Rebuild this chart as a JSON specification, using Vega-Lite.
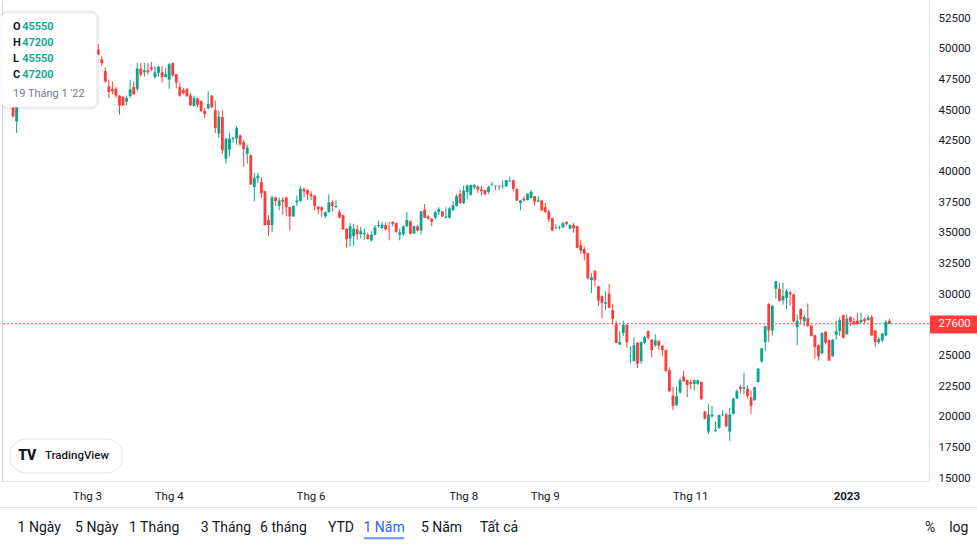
{
"$schema":"https://vega.github.io/schema/vega-lite/v6.json",
"padding":0,
"background":"#ffffff",
"spacing":26,
"bounds":"flush",
"config":{"view":{"stroke":null},"font":"Roboto","axis":{"labelOverlap":false}},
"datasets":{
"tabs":[{"t":"1 Ngày"},{"t":"5 Ngày"},{"t":"1 Tháng"},{"t":"3 Tháng"},{"t":"6 tháng"},{"t":"YTD"},{"t":"1 Năm"},{"t":"5 Năm"},{"t":"Tất cả"},{"t":"%"},{"t":"log"}],
"candles":[
{"d":"2022-01-19","o":45550,"h":47200,"l":45550,"c":47200},
{"d":"2022-01-20","o":47200,"h":47500,"l":46300,"c":46500},
{"d":"2022-01-21","o":46500,"h":46800,"l":45600,"c":45900},
{"d":"2022-01-24","o":45500,"h":45900,"l":44400,"c":44500},
{"d":"2022-01-25","o":44100,"h":46000,"l":43150,"c":45800},
{"d":"2022-01-26","o":45900,"h":46800,"l":45250,"c":46500},
{"d":"2022-01-27","o":46500,"h":47000,"l":45900,"c":46200},
{"d":"2022-01-28","o":46200,"h":47100,"l":45250,"c":46900},
{"d":"2022-02-07","o":47500,"h":48200,"l":47300,"c":47900},
{"d":"2022-02-08","o":47900,"h":48500,"l":47500,"c":48300},
{"d":"2022-02-09","o":48300,"h":48700,"l":47600,"c":47800},
{"d":"2022-02-10","o":47800,"h":48600,"l":47500,"c":48400},
{"d":"2022-02-11","o":48400,"h":49300,"l":48200,"c":49000},
{"d":"2022-02-14","o":49000,"h":49300,"l":48000,"c":48200},
{"d":"2022-02-15","o":48200,"h":48900,"l":47800,"c":48700},
{"d":"2022-02-16","o":48700,"h":49600,"l":48500,"c":49400},
{"d":"2022-02-17","o":49400,"h":49900,"l":48900,"c":49100},
{"d":"2022-02-18","o":49100,"h":50200,"l":49000,"c":49900},
{"d":"2022-02-21","o":49900,"h":50400,"l":49200,"c":49500},
{"d":"2022-02-22","o":49500,"h":50000,"l":48800,"c":49000},
{"d":"2022-02-23","o":49000,"h":49700,"l":48700,"c":49500},
{"d":"2022-02-24","o":49500,"h":50300,"l":49300,"c":50100},
{"d":"2022-02-25","o":50100,"h":50600,"l":49600,"c":49800},
{"d":"2022-02-28","o":49800,"h":50500,"l":49400,"c":50300},
{"d":"2022-03-01","o":50300,"h":50900,"l":50000,"c":50600},
{"d":"2022-03-02","o":50600,"h":51000,"l":49900,"c":50100},
{"d":"2022-03-03","o":50100,"h":50600,"l":49800,"c":50400},
{"d":"2022-03-04","o":49950,"h":50400,"l":49500,"c":49550},
{"d":"2022-03-07","o":49150,"h":49400,"l":48600,"c":48850},
{"d":"2022-03-08","o":48200,"h":48500,"l":47250,"c":47350},
{"d":"2022-03-09","o":46950,"h":47500,"l":46000,"c":46500},
{"d":"2022-03-10","o":46750,"h":47350,"l":46300,"c":46550},
{"d":"2022-03-11","o":46750,"h":46900,"l":46000,"c":46200},
{"d":"2022-03-14","o":46200,"h":46250,"l":44650,"c":45400},
{"d":"2022-03-15","o":46100,"h":46150,"l":45350,"c":45400},
{"d":"2022-03-16","o":45700,"h":46200,"l":45400,"c":46000},
{"d":"2022-03-17","o":46150,"h":47500,"l":46000,"c":46700},
{"d":"2022-03-18","o":46900,"h":47350,"l":46300,"c":46300},
{"d":"2022-03-21","o":46750,"h":48850,"l":46550,"c":48400},
{"d":"2022-03-22","o":48400,"h":48850,"l":47750,"c":47900},
{"d":"2022-03-23","o":48100,"h":48850,"l":47750,"c":48250},
{"d":"2022-03-24","o":48250,"h":48850,"l":47900,"c":48100},
{"d":"2022-03-25","o":48500,"h":48950,"l":48200,"c":48350},
{"d":"2022-03-28","o":47700,"h":48600,"l":47600,"c":48100},
{"d":"2022-03-29","o":48050,"h":48650,"l":47750,"c":48550},
{"d":"2022-03-30","o":48100,"h":48600,"l":47250,"c":47700},
{"d":"2022-03-31","o":47700,"h":48450,"l":47700,"c":47950},
{"d":"2022-04-01","o":47500,"h":48850,"l":46750,"c":48750},
{"d":"2022-04-04","o":48850,"h":48900,"l":47750,"c":47850},
{"d":"2022-04-05","o":47950,"h":47950,"l":46800,"c":47250},
{"d":"2022-04-06","o":46900,"h":47250,"l":46100,"c":46200},
{"d":"2022-04-07","o":46650,"h":46800,"l":46300,"c":46400},
{"d":"2022-04-08","o":46750,"h":46800,"l":46100,"c":46150},
{"d":"2022-04-12","o":46200,"h":46400,"l":45350,"c":45400},
{"d":"2022-04-13","o":45350,"h":46200,"l":45300,"c":46000},
{"d":"2022-04-14","o":45950,"h":46050,"l":45250,"c":45450},
{"d":"2022-04-15","o":45750,"h":45800,"l":44850,"c":44950},
{"d":"2022-04-18","o":44950,"h":45200,"l":44400,"c":44700},
{"d":"2022-04-19","o":45150,"h":46550,"l":45100,"c":45500},
{"d":"2022-04-20","o":46200,"h":46250,"l":45200,"c":45250},
{"d":"2022-04-21","o":45000,"h":45800,"l":43150,"c":43550},
{"d":"2022-04-22","o":43100,"h":45000,"l":42750,"c":44500},
{"d":"2022-04-25","o":44450,"h":45000,"l":41450,"c":41750},
{"d":"2022-04-26","o":41050,"h":42800,"l":40650,"c":42650},
{"d":"2022-04-27","o":41800,"h":43200,"l":41250,"c":42700},
{"d":"2022-04-28","o":42650,"h":42800,"l":42350,"c":42750},
{"d":"2022-04-29","o":42700,"h":43700,"l":42200,"c":43550},
{"d":"2022-05-04","o":42950,"h":43050,"l":42150,"c":42200},
{"d":"2022-05-05","o":42400,"h":42600,"l":40400,"c":41850},
{"d":"2022-05-06","o":41450,"h":42200,"l":40650,"c":41950},
{"d":"2022-05-09","o":41350,"h":41400,"l":38900,"c":38950},
{"d":"2022-05-10","o":38750,"h":39900,"l":37600,"c":39500},
{"d":"2022-05-11","o":39450,"h":39900,"l":39050,"c":39650},
{"d":"2022-05-12","o":39150,"h":39550,"l":37850,"c":38250},
{"d":"2022-05-13","o":38400,"h":38450,"l":35600,"c":35650},
{"d":"2022-05-16","o":36050,"h":36450,"l":34750,"c":35650},
{"d":"2022-05-17","o":35650,"h":38050,"l":35050,"c":37900},
{"d":"2022-05-18","o":37900,"h":37950,"l":37200,"c":37600},
{"d":"2022-05-19","o":37200,"h":37900,"l":36850,"c":37650},
{"d":"2022-05-20","o":37700,"h":37900,"l":36500,"c":37550},
{"d":"2022-05-23","o":37900,"h":37950,"l":36350,"c":37100},
{"d":"2022-05-24","o":37100,"h":37150,"l":35200,"c":36350},
{"d":"2022-05-25","o":36350,"h":37250,"l":36300,"c":37200},
{"d":"2022-05-26","o":37500,"h":38050,"l":37200,"c":37650},
{"d":"2022-05-27","o":37600,"h":38800,"l":37550,"c":38600},
{"d":"2022-05-30","o":38600,"h":38700,"l":37900,"c":38400},
{"d":"2022-05-31","o":38500,"h":38550,"l":37700,"c":38150},
{"d":"2022-06-01","o":38150,"h":38400,"l":37700,"c":38000},
{"d":"2022-06-02","o":38050,"h":38100,"l":36850,"c":37200},
{"d":"2022-06-03","o":37150,"h":37200,"l":36550,"c":36950},
{"d":"2022-06-06","o":37100,"h":37150,"l":36300,"c":36850},
{"d":"2022-06-07","o":36350,"h":36750,"l":36200,"c":36700},
{"d":"2022-06-08","o":36700,"h":38150,"l":36650,"c":37500},
{"d":"2022-06-09","o":37500,"h":37650,"l":36750,"c":37200},
{"d":"2022-06-10","o":37100,"h":37650,"l":37050,"c":37200},
{"d":"2022-06-13","o":36700,"h":36900,"l":36200,"c":36250},
{"d":"2022-06-14","o":36450,"h":36500,"l":35250,"c":35300},
{"d":"2022-06-15","o":35350,"h":35400,"l":33800,"c":34500},
{"d":"2022-06-16","o":34550,"h":35800,"l":33900,"c":35550},
{"d":"2022-06-17","o":34750,"h":35750,"l":33950,"c":35350},
{"d":"2022-06-20","o":35300,"h":35650,"l":34450,"c":34900},
{"d":"2022-06-21","o":34900,"h":35500,"l":34550,"c":35150},
{"d":"2022-06-22","o":34900,"h":35350,"l":34450,"c":35000},
{"d":"2022-06-23","o":34850,"h":35000,"l":34450,"c":34500},
{"d":"2022-06-24","o":34400,"h":35150,"l":34300,"c":34850},
{"d":"2022-06-27","o":34850,"h":35650,"l":34800,"c":35450},
{"d":"2022-06-28","o":35550,"h":36000,"l":35450,"c":35650},
{"d":"2022-06-29","o":35400,"h":35900,"l":35300,"c":35700},
{"d":"2022-06-30","o":35650,"h":35850,"l":35200,"c":35300},
{"d":"2022-07-01","o":35300,"h":35900,"l":34400,"c":35250},
{"d":"2022-07-04","o":35900,"h":35950,"l":35550,"c":35750},
{"d":"2022-07-05","o":35800,"h":35850,"l":35000,"c":35100},
{"d":"2022-07-06","o":34850,"h":35350,"l":34400,"c":35050},
{"d":"2022-07-07","o":34900,"h":35600,"l":34750,"c":35550},
{"d":"2022-07-08","o":35550,"h":36700,"l":35450,"c":36050},
{"d":"2022-07-11","o":35950,"h":36000,"l":34850,"c":34950},
{"d":"2022-07-12","o":34950,"h":35600,"l":34900,"c":35550},
{"d":"2022-07-13","o":35550,"h":35650,"l":35100,"c":35200},
{"d":"2022-07-14","o":35200,"h":36800,"l":34900,"c":36750},
{"d":"2022-07-15","o":36900,"h":37350,"l":36200,"c":36250},
{"d":"2022-07-18","o":36350,"h":36450,"l":36100,"c":36150},
{"d":"2022-07-19","o":36150,"h":36200,"l":35550,"c":35900},
{"d":"2022-07-20","o":36250,"h":36800,"l":36100,"c":36700},
{"d":"2022-07-21","o":36700,"h":37100,"l":36450,"c":36950},
{"d":"2022-07-22","o":36750,"h":36800,"l":36300,"c":36350},
{"d":"2022-07-25","o":36250,"h":37100,"l":36200,"c":36350},
{"d":"2022-07-26","o":36250,"h":37100,"l":36150,"c":37000},
{"d":"2022-07-27","o":36850,"h":37600,"l":36800,"c":37250},
{"d":"2022-07-28","o":37200,"h":38150,"l":37150,"c":38000},
{"d":"2022-07-29","o":38200,"h":38550,"l":37350,"c":37450},
{"d":"2022-08-01","o":37450,"h":38850,"l":37350,"c":38450},
{"d":"2022-08-02","o":38350,"h":38950,"l":37750,"c":38850},
{"d":"2022-08-03","o":38100,"h":38950,"l":38050,"c":38900},
{"d":"2022-08-04","o":38700,"h":39000,"l":38550,"c":38900},
{"d":"2022-08-05","o":38800,"h":38850,"l":38250,"c":38550},
{"d":"2022-08-08","o":38550,"h":38850,"l":38050,"c":38400},
{"d":"2022-08-09","o":38500,"h":38550,"l":38100,"c":38150},
{"d":"2022-08-10","o":38350,"h":38850,"l":38200,"c":38750},
{"d":"2022-08-11","o":38950,"h":39150,"l":38800,"c":39000},
{"d":"2022-08-12","o":38800,"h":38900,"l":38500,"c":38850},
{"d":"2022-08-15","o":38850,"h":38900,"l":38500,"c":38800},
{"d":"2022-08-16","o":38800,"h":39250,"l":38600,"c":38850},
{"d":"2022-08-17","o":38800,"h":39350,"l":38750,"c":39300},
{"d":"2022-08-18","o":39200,"h":39600,"l":39150,"c":39250},
{"d":"2022-08-19","o":39300,"h":39350,"l":38400,"c":38600},
{"d":"2022-08-22","o":38600,"h":38600,"l":37600,"c":37650},
{"d":"2022-08-23","o":37450,"h":37700,"l":36850,"c":37650},
{"d":"2022-08-24","o":37800,"h":38000,"l":37550,"c":37650},
{"d":"2022-08-25","o":37700,"h":38200,"l":37650,"c":38200},
{"d":"2022-08-26","o":37850,"h":38500,"l":37800,"c":38350},
{"d":"2022-08-29","o":38000,"h":38000,"l":37250,"c":37550},
{"d":"2022-08-30","o":37550,"h":38000,"l":37500,"c":37650},
{"d":"2022-08-31","o":37650,"h":37700,"l":36800,"c":36850},
{"d":"2022-09-05","o":37100,"h":37450,"l":36650,"c":36700},
{"d":"2022-09-06","o":36750,"h":36900,"l":35900,"c":36100},
{"d":"2022-09-07","o":36200,"h":36250,"l":35150,"c":35200},
{"d":"2022-09-08","o":35400,"h":35700,"l":35300,"c":35450},
{"d":"2022-09-09","o":35400,"h":35600,"l":35300,"c":35450},
{"d":"2022-09-12","o":35450,"h":35900,"l":35400,"c":35800},
{"d":"2022-09-13","o":35900,"h":35950,"l":35600,"c":35750},
{"d":"2022-09-14","o":35350,"h":35700,"l":35300,"c":35650},
{"d":"2022-09-15","o":35650,"h":35800,"l":35000,"c":35400},
{"d":"2022-09-16","o":35550,"h":35600,"l":33750,"c":33800},
{"d":"2022-09-19","o":34000,"h":34450,"l":33300,"c":33550},
{"d":"2022-09-20","o":33700,"h":33900,"l":32750,"c":33300},
{"d":"2022-09-21","o":33350,"h":33400,"l":31200,"c":31300},
{"d":"2022-09-22","o":31150,"h":31750,"l":30100,"c":31400},
{"d":"2022-09-23","o":31900,"h":32000,"l":30650,"c":31150},
{"d":"2022-09-26","o":30650,"h":30700,"l":29050,"c":29500},
{"d":"2022-09-27","o":29850,"h":29900,"l":28050,"c":29300},
{"d":"2022-09-28","o":29250,"h":30250,"l":28700,"c":29350},
{"d":"2022-09-29","o":30050,"h":30850,"l":28850,"c":28900},
{"d":"2022-09-30","o":28700,"h":29200,"l":27600,"c":28000},
{"d":"2022-10-03","o":27550,"h":27850,"l":26000,"c":26050},
{"d":"2022-10-04","o":25900,"h":27000,"l":25900,"c":26100},
{"d":"2022-10-05","o":26850,"h":27850,"l":26600,"c":27500},
{"d":"2022-10-06","o":27500,"h":27550,"l":25650,"c":26100},
{"d":"2022-10-07","o":24950,"h":25750,"l":24350,"c":25000},
{"d":"2022-10-10","o":24550,"h":26500,"l":24500,"c":25850},
{"d":"2022-10-11","o":26050,"h":26100,"l":24000,"c":24350},
{"d":"2022-10-12","o":24550,"h":26150,"l":24350,"c":26100},
{"d":"2022-10-13","o":26050,"h":26600,"l":25900,"c":26500},
{"d":"2022-10-14","o":27000,"h":27050,"l":26300,"c":26450},
{"d":"2022-10-17","o":26300,"h":26350,"l":24850,"c":25450},
{"d":"2022-10-18","o":25850,"h":26750,"l":25700,"c":26250},
{"d":"2022-10-19","o":26200,"h":26250,"l":25450,"c":25800},
{"d":"2022-10-20","o":25800,"h":25850,"l":24950,"c":25450},
{"d":"2022-10-21","o":25450,"h":25500,"l":23650,"c":23750},
{"d":"2022-10-24","o":23800,"h":24050,"l":22050,"c":22100},
{"d":"2022-10-25","o":21750,"h":22450,"l":20550,"c":20900},
{"d":"2022-10-26","o":20950,"h":22450,"l":20900,"c":21700},
{"d":"2022-10-27","o":22000,"h":23200,"l":21900,"c":23000},
{"d":"2022-10-28","o":23300,"h":23750,"l":22900,"c":22900},
{"d":"2022-10-31","o":23000,"h":23050,"l":21600,"c":22600},
{"d":"2022-11-01","o":22850,"h":23050,"l":22250,"c":22700},
{"d":"2022-11-02","o":22700,"h":23050,"l":22150,"c":23000},
{"d":"2022-11-03","o":22700,"h":23050,"l":22600,"c":23000},
{"d":"2022-11-04","o":22850,"h":22900,"l":21400,"c":21450},
{"d":"2022-11-07","o":20450,"h":20500,"l":19800,"c":19850},
{"d":"2022-11-08","o":18800,"h":21050,"l":18600,"c":20200},
{"d":"2022-11-09","o":20050,"h":20900,"l":19950,"c":20200},
{"d":"2022-11-10","o":18850,"h":19650,"l":18800,"c":18950},
{"d":"2022-11-11","o":19100,"h":20200,"l":19050,"c":20150},
{"d":"2022-11-14","o":20150,"h":20550,"l":20050,"c":20200},
{"d":"2022-11-15","o":20200,"h":20350,"l":19150,"c":19250},
{"d":"2022-11-16","o":18800,"h":20750,"l":18050,"c":20200},
{"d":"2022-11-17","o":20250,"h":21550,"l":20200,"c":21500},
{"d":"2022-11-18","o":21500,"h":22250,"l":21450,"c":22100},
{"d":"2022-11-21","o":22450,"h":22600,"l":21900,"c":22300},
{"d":"2022-11-22","o":22300,"h":23600,"l":21850,"c":22450},
{"d":"2022-11-23","o":22300,"h":22600,"l":21500,"c":21700},
{"d":"2022-11-24","o":21600,"h":22150,"l":20250,"c":20900},
{"d":"2022-11-25","o":21350,"h":22450,"l":21350,"c":22450},
{"d":"2022-11-28","o":22850,"h":23950,"l":22800,"c":23950},
{"d":"2022-11-29","o":24550,"h":25650,"l":24400,"c":25600},
{"d":"2022-11-30","o":26100,"h":27450,"l":25350,"c":27400},
{"d":"2022-12-01","o":29200,"h":29300,"l":26100,"c":27050},
{"d":"2022-12-02","o":27050,"h":29100,"l":26650,"c":29050},
{"d":"2022-12-05","o":30450,"h":31100,"l":29650,"c":31050},
{"d":"2022-12-06","o":30450,"h":30950,"l":29400,"c":29450},
{"d":"2022-12-07","o":29500,"h":30950,"l":29150,"c":29850},
{"d":"2022-12-08","o":29700,"h":30450,"l":28800,"c":30250},
{"d":"2022-12-09","o":30150,"h":30250,"l":29100,"c":30000},
{"d":"2022-12-12","o":30000,"h":30050,"l":27750,"c":27800},
{"d":"2022-12-13","o":27350,"h":28350,"l":25850,"c":27850},
{"d":"2022-12-14","o":28800,"h":28850,"l":27550,"c":27950},
{"d":"2022-12-15","o":27800,"h":28350,"l":27400,"c":28150},
{"d":"2022-12-16","o":28050,"h":29250,"l":27350,"c":27400},
{"d":"2022-12-19","o":27450,"h":27500,"l":26550,"c":26600},
{"d":"2022-12-20","o":26650,"h":26700,"l":24750,"c":25700},
{"d":"2022-12-21","o":25850,"h":25900,"l":24600,"c":24950},
{"d":"2022-12-22","o":25200,"h":26900,"l":25100,"c":26850},
{"d":"2022-12-23","o":26950,"h":27000,"l":25900,"c":26050},
{"d":"2022-12-26","o":26250,"h":26300,"l":24550,"c":24600},
{"d":"2022-12-27","o":24950,"h":26350,"l":24900,"c":26300},
{"d":"2022-12-28","o":26700,"h":27850,"l":26300,"c":27000},
{"d":"2022-12-29","o":27000,"h":28100,"l":26600,"c":27900},
{"d":"2022-12-30","o":28300,"h":28350,"l":26400,"c":26450},
{"d":"2023-01-03","o":26750,"h":28350,"l":26700,"c":28000},
{"d":"2023-01-04","o":28150,"h":28200,"l":27400,"c":27750},
{"d":"2023-01-05","o":27800,"h":28100,"l":27500,"c":27550},
{"d":"2023-01-06","o":27850,"h":28500,"l":27550,"c":27600},
{"d":"2023-01-09","o":27700,"h":28500,"l":27650,"c":27900},
{"d":"2023-01-10","o":28000,"h":28100,"l":27600,"c":27800},
{"d":"2023-01-11","o":27900,"h":28300,"l":27850,"c":28100},
{"d":"2023-01-12","o":28150,"h":28300,"l":26600,"c":26650},
{"d":"2023-01-13","o":27050,"h":27100,"l":25700,"c":26100},
{"d":"2023-01-16","o":26100,"h":26500,"l":25950,"c":26350},
{"d":"2023-01-17","o":26250,"h":26850,"l":26100,"c":26800},
{"d":"2023-01-18","o":26650,"h":27900,"l":26600,"c":27750},
{"d":"2023-01-19","o":27850,"h":28000,"l":27550,"c":27600}
]},
"vconcat":[
{
"width":928,"height":480,
"resolve":{"axis":{"x":"independent","y":"independent"}},
"layer":[
{"data":{"name":"candles"},"mark":{"type":"rule","strokeWidth":1},
 "encoding":{
  "x":{"field":"d","type":"ordinal","scale":{"type":"band","domain":{"unionWith":["2023-01-27","2023-01-30","2023-01-31","2023-02-01","2023-02-02","2023-02-03","2023-02-06","2023-02-07","2023-02-08","2023-02-09"]},"paddingInner":0.2,"paddingOuter":0.38,"align":0,"round":false},
   "axis":{"orient":"bottom","title":null,"values":["2022-03-01","2022-04-01","2022-06-01","2022-08-01","2022-09-05","2022-11-01","2023-01-03"],
    "labelExpr":"datum.value == '2023-01-03' ? '2023' : 'Thg ' + toNumber(slice(datum.value, 5, 7))",
    "labelFontWeight":{"condition":{"test":"datum.value == '2023-01-03'","value":"bold"},"value":"normal"},
    "ticks":false,"grid":false,"domainColor":"#e0e3eb","labelPadding":9,"labelAngle":0,"labelColor":"#131722","labelFont":"Roboto","labelFontSize":11.5,"labelOverlap":false}},
  "y":{"field":"l","type":"quantitative","scale":{"domain":[14780,53910],"nice":false,"zero":false},
   "axis":{"orient":"right","title":null,"values":[15000,17500,20000,22500,25000,27600,30000,32500,35000,37500,40000,42500,45000,47500,50000,52500],
    "format":"d","grid":false,"domainColor":"#e0e3eb","tickSize":49,"tickColor":"#FF3B3B",
    "tickWidth":{"condition":{"test":"datum.value == 27600","value":18},"value":0},
    "tickOpacity":{"condition":{"test":"datum.value == 27600","value":1},"value":0},
    "labelPadding":-40,"labelAlign":"left",
    "labelColor":{"condition":{"test":"datum.value == 27600","value":"#ffffff"},"value":"#131722"},
    "labelFont":"Roboto","labelFontSize":11.5,"labelOverlap":false,"labelFlush":false}},
  "y2":{"field":"h"},
  "color":{"condition":{"test":"datum.c >= datum.o","value":"#08A58F"},"value":"#FF3B3B"}}},
{"data":{"name":"candles"},"mark":{"type":"bar"},
 "encoding":{
  "x":{"field":"d","type":"ordinal","axis":null},
  "y":{"field":"o","type":"quantitative","axis":null},
  "y2":{"field":"c"},
  "color":{"condition":{"test":"datum.c >= datum.o","value":"#08A58F"},"value":"#FF3B3B"}}},
{"data":{"values":[{}]},"mark":{"type":"rule","color":"#d1d4dc","strokeWidth":1},"encoding":{"x":{"datum":"2022-01-19","type":"ordinal","axis":null}}},
{"data":{"values":[{}]},"mark":{"type":"rule","color":"#FF3B3B","strokeDash":[2,2],"strokeWidth":1},"encoding":{"y":{"datum":27600,"axis":null}}},
{"data":{"values":[{}]},"mark":{"type":"rect","fill":"#ffffff","stroke":"#000000","strokeOpacity":0.07,"strokeWidth":5,"cornerRadius":6,"clip":true},
 "encoding":{"x":{"datum":"2022-01-19","type":"ordinal","bandPosition":0,"axis":null},"x2":{"datum":"2022-03-04","bandPosition":0},"y":{"datum":52930,"axis":null},"y2":{"datum":45270}}},
{"data":{"values":[{}]},"mark":{"type":"rect","fill":"#ffffff","stroke":"#ececec","strokeWidth":1,"cornerRadius":6,"clip":true},
 "encoding":{"x":{"datum":"2022-01-19","type":"ordinal","bandPosition":0,"axis":null},"x2":{"datum":"2022-03-04","bandPosition":0},"y":{"datum":52930,"axis":null},"y2":{"datum":45270}}},
{"data":{"name":"candles"},"transform":[{"filter":"datum.d == '2022-01-19'"}],"mark":{"type":"text","align":"left","baseline":"middle","font":"Roboto","fontSize":11,"fontWeight":"bold","color":"#131722","text":"O"},
 "encoding":{"x":{"datum":"2022-01-24","type":"ordinal","axis":null},"y":{"datum":51790,"axis":null}}},
{"data":{"name":"candles"},"transform":[{"filter":"datum.d == '2022-01-19'"}],"mark":{"type":"text","align":"left","baseline":"middle","font":"Roboto","fontSize":11,"fontWeight":"bold","color":"#131722","text":"H"},
 "encoding":{"x":{"datum":"2022-01-24","type":"ordinal","axis":null},"y":{"datum":50486,"axis":null}}},
{"data":{"name":"candles"},"transform":[{"filter":"datum.d == '2022-01-19'"}],"mark":{"type":"text","align":"left","baseline":"middle","font":"Roboto","fontSize":11,"fontWeight":"bold","color":"#131722","text":"L"},
 "encoding":{"x":{"datum":"2022-01-24","type":"ordinal","axis":null},"y":{"datum":49182,"axis":null}}},
{"data":{"name":"candles"},"transform":[{"filter":"datum.d == '2022-01-19'"}],"mark":{"type":"text","align":"left","baseline":"middle","font":"Roboto","fontSize":11,"fontWeight":"bold","color":"#131722","text":"C"},
 "encoding":{"x":{"datum":"2022-01-24","type":"ordinal","axis":null},"y":{"datum":47877,"axis":null}}},
{"data":{"name":"candles"},"transform":[{"filter":"datum.d == '2022-01-19'"}],"mark":{"type":"text","align":"left","baseline":"middle","font":"Roboto","fontSize":11,"fontWeight":600,"color":"#08A58F","dx":2},
 "encoding":{"x":{"datum":"2022-01-26","type":"ordinal","axis":null},"y":{"datum":51790,"axis":null},"text":{"field":"o","type":"quantitative","format":"d"}}},
{"data":{"name":"candles"},"transform":[{"filter":"datum.d == '2022-01-19'"}],"mark":{"type":"text","align":"left","baseline":"middle","font":"Roboto","fontSize":11,"fontWeight":600,"color":"#08A58F","dx":2},
 "encoding":{"x":{"datum":"2022-01-26","type":"ordinal","axis":null},"y":{"datum":50486,"axis":null},"text":{"field":"h","type":"quantitative","format":"d"}}},
{"data":{"name":"candles"},"transform":[{"filter":"datum.d == '2022-01-19'"}],"mark":{"type":"text","align":"left","baseline":"middle","font":"Roboto","fontSize":11,"fontWeight":600,"color":"#08A58F","dx":2},
 "encoding":{"x":{"datum":"2022-01-26","type":"ordinal","axis":null},"y":{"datum":49182,"axis":null},"text":{"field":"l","type":"quantitative","format":"d"}}},
{"data":{"name":"candles"},"transform":[{"filter":"datum.d == '2022-01-19'"}],"mark":{"type":"text","align":"left","baseline":"middle","font":"Roboto","fontSize":11,"fontWeight":600,"color":"#08A58F","dx":2},
 "encoding":{"x":{"datum":"2022-01-26","type":"ordinal","axis":null},"y":{"datum":47877,"axis":null},"text":{"field":"c","type":"quantitative","format":"d"}}},
{"data":{"values":[{}]},"mark":{"type":"text","align":"left","baseline":"middle","font":"Roboto","fontSize":11,"color":"#787b86","text":"19 Tháng 1 '22"},
 "encoding":{"x":{"datum":"2022-01-24","type":"ordinal","axis":null},"y":{"datum":46329,"axis":null}}},
{"data":{"values":[{}]},"mark":{"type":"rect","fill":"#ffffff","stroke":"#e0e3eb","strokeWidth":1,"cornerRadius":17},
 "encoding":{"x":{"datum":"2022-01-21","type":"ordinal","axis":null},"x2":{"datum":"2022-03-15"},"y":{"datum":18204,"axis":null},"y2":{"datum":15433}}},
{"data":{"values":[{}]},"mark":{"type":"text","align":"center","baseline":"middle","font":"Roboto","fontSize":14,"fontWeight":900,"color":"#131722","text":"TV"},
 "encoding":{"x":{"datum":"2022-01-28","type":"ordinal","axis":null},"y":{"datum":16819,"axis":null}}},
{"data":{"values":[{}]},"mark":{"type":"text","align":"center","baseline":"middle","font":"Roboto","fontSize":11.5,"fontWeight":500,"color":"#131722","text":"TradingView"},
 "encoding":{"x":{"datum":"2022-02-24","type":"ordinal","axis":null},"y":{"datum":16819,"axis":null}}}
]
},
{
"width":977,"height":38,
"layer":[
{"data":{"values":[{}]},"mark":{"type":"rule","color":"#e0e3eb","strokeWidth":1},"encoding":{"y":{"datum":0.987,"type":"quantitative","scale":{"domain":[0,1]},"axis":null}}},
{"data":{"name":"tabs"},"mark":{"type":"text","font":"Roboto","fontSize":14,"baseline":"middle","align":"center"},
 "encoding":{"x":{"field":"t","type":"nominal","scale":{"type":"point","domain":["_0","_1","1 Ngày","_3","_4","_5","5 Ngày","_7","_8","_9","1 Tháng","_11","_12","_13","_14","3 Tháng","_16","_17","_18","6 tháng","_20","_21","_22","YTD","_24","_25","1 Năm","_27","_28","_29","5 Năm","_31","_32","_33","Tất cả","_35","_36","_37","_38","_39","_40","_41","_42","_43","_44","_45","_46","_47","_48","_49","_50","_51","_52","_53","_54","_55","_56","_57","_58","_59","_60","_61","_62","_63","%","_65","log"],"padding":1,"align":0.331},"axis":null},
  "y":{"datum":0.447,"axis":null},"text":{"field":"t"},
  "color":{"condition":{"test":"datum.t == '1 Năm'","value":"#2962ff"},"value":"#131722"}}},
{"data":{"name":"tabs"},"transform":[{"filter":"datum.t == '1 Năm'"}],"mark":{"type":"tick","orient":"horizontal","size":40,"thickness":2,"color":"#2962ff"},
 "encoding":{"x":{"field":"t","type":"nominal","axis":null},
  "y":{"datum":0.176,"axis":null}}}
]
}
]
}
